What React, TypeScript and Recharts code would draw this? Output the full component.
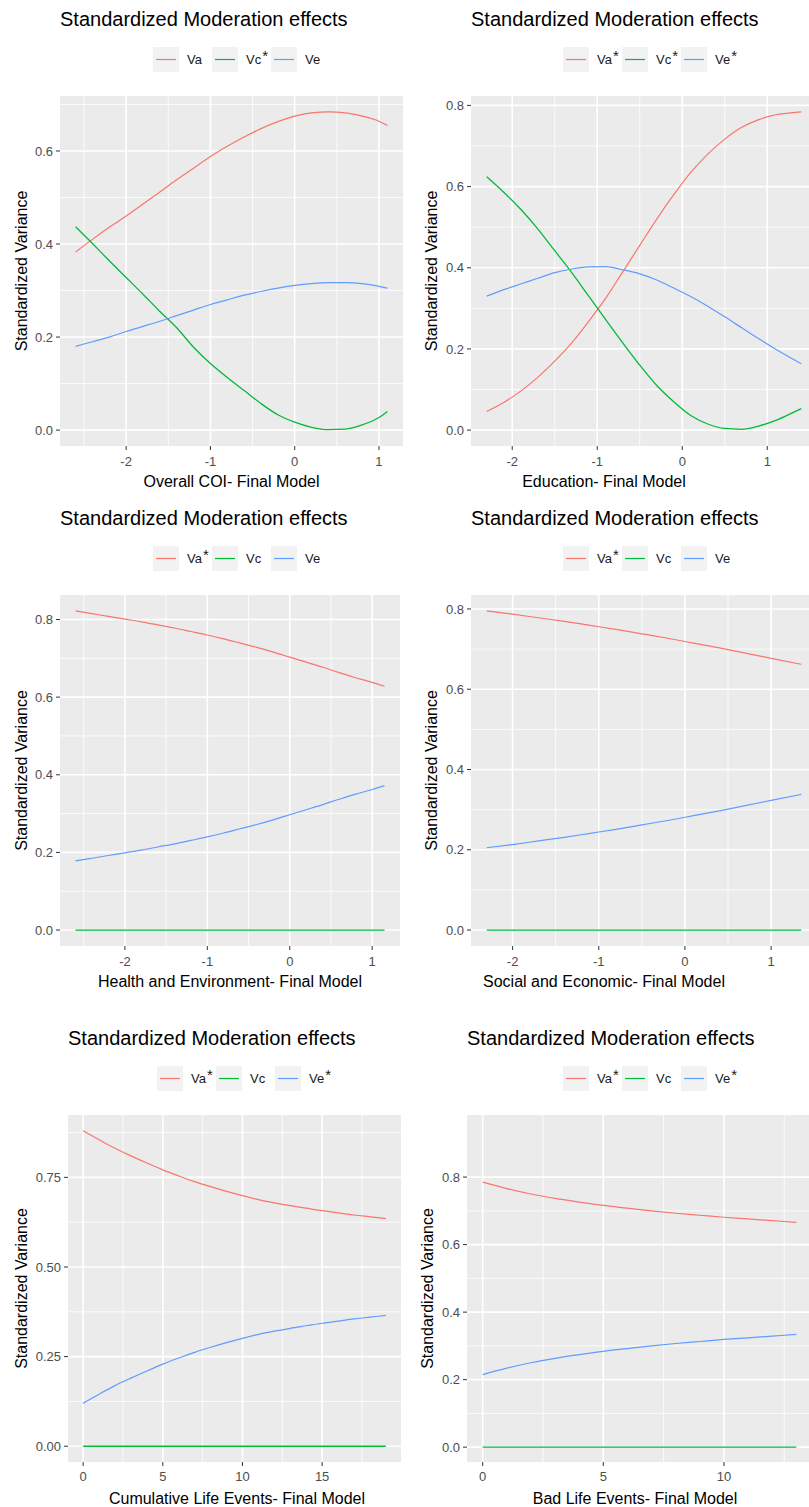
import React from 'react';
import { LineChart, Line, XAxis, YAxis, CartesianGrid, Legend } from 'recharts';

const FONT = "'Liberation Sans', Arial, Helvetica, sans-serif";
const RED = '#F8766D';
const GREEN = '#00BA38';
const BLUE = '#619CFF';

// Overall COI
const coiX = [-2.6, -2.4, -2.2, -2.0, -1.8, -1.6, -1.4, -1.2, -1.0, -0.8, -0.6, -0.4, -0.2, 0, 0.2, 0.4, 0.6, 0.8, 1.0, 1.1];
const coiVa = [0.383, 0.41, 0.436, 0.46, 0.486, 0.512, 0.538, 0.563, 0.588, 0.61, 0.63, 0.648, 0.663, 0.675, 0.682, 0.684, 0.682, 0.675, 0.664, 0.655];
const coiVc = [0.437, 0.401, 0.364, 0.328, 0.292, 0.255, 0.22, 0.178, 0.143, 0.113, 0.085, 0.057, 0.033, 0.017, 0.006, 0.001, 0.002, 0.011, 0.027, 0.04];
const coiVe = [0.18, 0.19, 0.2, 0.212, 0.223, 0.234, 0.246, 0.258, 0.27, 0.28, 0.29, 0.298, 0.305, 0.311, 0.315, 0.317, 0.317, 0.315, 0.309, 0.305];
const coiLabels = ['Va', 'Vc*', 'Ve'];

// Education
const eduX = [-2.3, -2.1, -1.9, -1.7, -1.5, -1.3, -1.1, -0.9, -0.7, -0.5, -0.3, -0.1, 0.1, 0.3, 0.5, 0.7, 0.9, 1.1, 1.3, 1.4];
const eduVa = [0.046, 0.068, 0.096, 0.13, 0.17, 0.215, 0.268, 0.325, 0.39, 0.455, 0.52, 0.58, 0.635, 0.68, 0.717, 0.746, 0.765, 0.777, 0.782, 0.784];
const eduVc = [0.624, 0.586, 0.544, 0.496, 0.442, 0.388, 0.33, 0.272, 0.215, 0.16, 0.11, 0.07, 0.036, 0.015, 0.004, 0.002, 0.01, 0.024, 0.043, 0.053];
const eduVe = [0.33, 0.346, 0.36, 0.374, 0.388, 0.397, 0.402, 0.403, 0.395, 0.385, 0.37, 0.35, 0.329, 0.305, 0.279, 0.252, 0.225, 0.199, 0.175, 0.163];
const eduLabels = ['Va*', 'Vc*', 'Ve*'];

// Health and Environment
const heX = [-2.6, -2.4, -2.2, -2.0, -1.8, -1.6, -1.4, -1.2, -1.0, -0.8, -0.6, -0.4, -0.2, 0, 0.2, 0.4, 0.6, 0.8, 1.0, 1.15];
const heVa = [0.822, 0.815, 0.808, 0.801, 0.794, 0.786, 0.778, 0.769, 0.76, 0.75, 0.739, 0.728, 0.716, 0.703, 0.69, 0.677, 0.663, 0.65, 0.638, 0.628];
const heVc = [0, 0, 0, 0, 0, 0, 0, 0, 0, 0, 0, 0, 0, 0, 0, 0, 0, 0, 0, 0];
const heVe = [0.178, 0.185, 0.192, 0.199, 0.206, 0.214, 0.222, 0.231, 0.24, 0.25, 0.261, 0.272, 0.284, 0.297, 0.31, 0.323, 0.337, 0.35, 0.362, 0.372];
const heLabels = ['Va*', 'Vc', 'Ve'];

// Social and Economic
const seX = [-2.3, -2.0, -1.7, -1.4, -1.1, -0.8, -0.5, -0.2, 0.1, 0.4, 0.7, 1.0, 1.35];
const seVa = [0.795, 0.787, 0.778, 0.769, 0.759, 0.749, 0.738, 0.727, 0.715, 0.703, 0.69, 0.677, 0.662];
const seVc = [0, 0, 0, 0, 0, 0, 0, 0, 0, 0, 0, 0, 0];
const seVe = [0.205, 0.213, 0.222, 0.231, 0.241, 0.251, 0.262, 0.273, 0.285, 0.297, 0.31, 0.323, 0.338];
const seLabels = ['Va*', 'Vc', 'Ve'];

// Cumulative Life Events
const cleX = [0, 1, 2, 3, 4, 5, 6, 7, 8, 9, 10, 11, 12, 13, 14, 15, 16, 17, 18, 19];
const cleVa = [0.88, 0.855, 0.831, 0.81, 0.79, 0.771, 0.754, 0.738, 0.724, 0.711, 0.699, 0.688, 0.679, 0.671, 0.664, 0.657, 0.651, 0.645, 0.64, 0.635];
const cleVc = [0, 0, 0, 0, 0, 0, 0, 0, 0, 0, 0, 0, 0, 0, 0, 0, 0, 0, 0, 0];
const cleVe = [0.12, 0.145, 0.169, 0.19, 0.21, 0.229, 0.246, 0.262, 0.276, 0.289, 0.301, 0.312, 0.321, 0.329, 0.336, 0.343, 0.349, 0.355, 0.36, 0.365];
const cleLabels = ['Va*', 'Vc', 'Ve*'];

// Bad Life Events
const bleX = [0, 1, 2, 3, 4, 5, 6, 7, 8, 9, 10, 11, 12, 13];
const bleVa = [0.785, 0.766, 0.75, 0.737, 0.726, 0.716, 0.708, 0.7, 0.693, 0.687, 0.681, 0.676, 0.671, 0.666];
const bleVc = [0, 0, 0, 0, 0, 0, 0, 0, 0, 0, 0, 0, 0, 0];
const bleVe = [0.215, 0.234, 0.25, 0.263, 0.274, 0.284, 0.292, 0.3, 0.307, 0.313, 0.319, 0.324, 0.329, 0.334];
const bleLabels = ['Va*', 'Vc', 'Ve*'];

// axis ticks
const xMajorStd = [-2, -1, 0, 1];
const xMinorStd = [-2.5, -1.5, -0.5, 0.5, 1.5];
const yMajor8 = [0, 0.2, 0.4, 0.6, 0.8];
const yMinor8 = [0.1, 0.3, 0.5, 0.7];
const xMajorCle = [0, 5, 10, 15];
const xMinorCle = [2.5, 7.5, 12.5, 17.5];
const yMajorCle = [0, 0.25, 0.5, 0.75];
const yMinorCle = [0.125, 0.375, 0.625, 0.875];
const xMajorBle = [0, 5, 10];
const xMinorBle = [2.5, 7.5, 12.5];

const pad = (lo: number, hi: number): [number, number] => {
  const r = hi - lo;
  return [lo - r * 0.05, hi + r * 0.05];
};

type Panel = {
  title: string;
  xTitle: string;
  x: number[];
  va: number[];
  vc: number[];
  ve: number[];
  labels: string[];
  xMajor: number[];
  xMinor: number[];
  yMajor: number[];
  yMinor: number[];
  yDomain?: [number, number];
  digits: number;
  // layout (page px)
  boxL: number;
  boxT: number;
  boxW: number;
  boxH: number;
  plotL: number;
  plotT: number;
  plotR: number;
  plotB: number;
  titleTop: number;
  legendL: number;
  legendT: number;
  xTitleDy: number;
  xTitleCx?: number;
  yTitleX: number;
  xTickMargin: number;
};

const panels: Panel[] = [
  {
    title: 'Standardized Moderation effects', xTitle: 'Overall COI- Final Model',
    x: coiX, va: coiVa, vc: coiVc, ve: coiVe, labels: coiLabels,
    xMajor: xMajorStd, xMinor: xMinorStd, yMajor: [0, 0.2, 0.4, 0.6], yMinor: yMinor8, digits: 1,
    boxL: 0, boxT: 0, boxW: 405, boxH: 500, plotL: 60, plotT: 96, plotR: 403, plotB: 446,
    titleTop: 9, legendL: 153, legendT: 46, xTitleDy: 40.5, yTitleX: 27, xTickMargin: 7,
  },
  {
    title: 'Standardized Moderation effects', xTitle: 'Education- Final Model',
    x: eduX, va: eduVa, vc: eduVc, ve: eduVe, labels: eduLabels,
    xMajor: xMajorStd, xMinor: xMinorStd, yMajor: yMajor8, yMinor: yMinor8, digits: 1,
    boxL: 405, boxT: 0, boxW: 420, boxH: 500, plotL: 471, plotT: 96, plotR: 817, plotB: 446,
    titleTop: 9, legendL: 563, legendT: 46, xTitleDy: 40.5, xTitleCx: 604, yTitleX: 437, xTickMargin: 7,
  },
  {
    title: 'Standardized Moderation effects', xTitle: 'Health and Environment- Final Model',
    x: heX, va: heVa, vc: heVc, ve: heVe, labels: heLabels,
    xMajor: xMajorStd, xMinor: xMinorStd, yMajor: yMajor8, yMinor: yMinor8, digits: 1,
    boxL: 0, boxT: 499, boxW: 405, boxH: 500, plotL: 60, plotT: 595, plotR: 400, plotB: 946,
    titleTop: 508, legendL: 153, legendT: 545, xTitleDy: 40.5, yTitleX: 27, xTickMargin: 7,
  },
  {
    title: 'Standardized Moderation effects', xTitle: 'Social and Economic- Final Model',
    x: seX, va: seVa, vc: seVc, ve: seVe, labels: seLabels,
    xMajor: xMajorStd, xMinor: xMinorStd, yMajor: yMajor8, yMinor: yMinor8, digits: 1,
    boxL: 405, boxT: 499, boxW: 420, boxH: 500, plotL: 471, plotT: 595, plotR: 817, plotB: 946,
    titleTop: 508, legendL: 563, legendT: 545, xTitleDy: 40.5, xTitleCx: 604, yTitleX: 437, xTickMargin: 7,
  },
  {
    title: 'Standardized Moderation effects', xTitle: 'Cumulative Life Events- Final Model',
    x: cleX, va: cleVa, vc: cleVc, ve: cleVe, labels: cleLabels,
    xMajor: xMajorCle, xMinor: xMinorCle, yMajor: yMajorCle, yMinor: yMinorCle, digits: 2,
    boxL: 0, boxT: 1019, boxW: 405, boxH: 488, plotL: 68, plotT: 1115, plotR: 401, plotB: 1462,
    titleTop: 1028, legendL: 157, legendT: 1065, xTitleDy: 42, xTitleCx: 237, yTitleX: 27, xTickMargin: 6,
  },
  {
    title: 'Standardized Moderation effects', xTitle: 'Bad Life Events- Final Model',
    x: bleX, va: bleVa, vc: bleVc, ve: bleVe, labels: bleLabels,
    xMajor: xMajorBle, xMinor: xMinorBle, yMajor: yMajor8, yMinor: yMinor8, digits: 1,
    yDomain: [-0.044, 0.984],
    boxL: 405, boxT: 1019, boxW: 420, boxH: 488, plotL: 467, plotT: 1115, plotR: 812, plotB: 1462,
    titleTop: 1028, legendL: 563, legendT: 1065, xTitleDy: 42, xTitleCx: 635, yTitleX: 433, xTickMargin: 6,
  },
];

const LegendKeys = ({ payload }: any) => (
  <div style={{ display: 'flex', alignItems: 'center', fontFamily: FONT, fontSize: 13, color: '#1A1A1A' }}>
    {(payload || []).map((p: any) => {
      const name = String(p.value);
      const star = name.endsWith('*');
      const base = star ? name.slice(0, -1) : name;
      return (
        <div key={name} style={{ display: 'flex', alignItems: 'center' }}>
          <svg width={26} height={25} style={{ display: 'block' }}>
            <rect x={0} y={0} width={26} height={25} fill="#F2F2F2" />
            <line x1={3} x2={23} y1={12.5} y2={12.5} stroke={p.color} strokeWidth={1.2} />
          </svg>
          <span style={{ marginLeft: 8, width: 25, whiteSpace: 'nowrap', lineHeight: '25px' }}>
            {base}
            {star && <span style={{ position: 'relative', top: -3, fontSize: 15, marginLeft: 1 }}>*</span>}
          </span>
        </div>
      );
    })}
  </div>
);

function ChartPanel({ p }: { p: Panel }) {
  const data = p.x.map((x, i) => ({ x, va: p.va[i], vc: p.vc[i], ve: p.ve[i] }));
  const xDomain = pad(Math.min(...p.x), Math.max(...p.x));
  const yDomain = p.yDomain ?? pad(0, Math.max(...p.va, ...p.vc, ...p.ve));
  const margin = { top: p.plotT - p.boxT, right: p.boxW - (p.plotR - p.boxL), bottom: 0, left: 0 };
  const yAxisW = p.plotL - p.boxL;
  const xAxisH = p.boxH - (p.plotB - p.boxT);
  const tickStyle = { fill: '#4D4D4D', fontSize: 13, fontFamily: FONT };

  const xTitle = (props: any) => {
    const vb = props.viewBox || {};
    const cx = p.xTitleCx !== undefined ? p.xTitleCx - p.boxL : vb.x + vb.width / 2;
    return (
      <text x={cx} y={vb.y + p.xTitleDy} textAnchor="middle" fontSize={16} fontFamily={FONT} fill="#000">
        {p.xTitle}
      </text>
    );
  };
  const yTitle = (props: any) => {
    const vb = props.viewBox || {};
    const cx = p.yTitleX - p.boxL;
    const cy = vb.y + vb.height / 2;
    return (
      <text x={cx} y={cy} transform={`rotate(-90, ${cx}, ${cy})`} textAnchor="middle" fontSize={16} fontFamily={FONT} fill="#000">
        Standardized Variance
      </text>
    );
  };

  return (
    <div style={{ position: 'absolute', left: p.boxL, top: p.boxT, width: p.boxW, height: p.boxH }}>
      <div
        style={{
          position: 'absolute', left: p.plotL - p.boxL, top: p.titleTop - p.boxT, fontFamily: FONT,
          fontSize: 20, lineHeight: '20px', color: '#000', whiteSpace: 'nowrap',
        }}
      >
        {p.title}
      </div>
      <LineChart width={p.boxW} height={p.boxH} data={data} margin={margin}>
        <CartesianGrid fill="#EBEBEB" fillOpacity={1} stroke="#FFFFFF" strokeWidth={0.8} horizontalValues={p.yMinor} verticalValues={p.xMinor} />
        <CartesianGrid stroke="#FFFFFF" strokeWidth={1.6} horizontalValues={p.yMajor} verticalValues={p.xMajor} />
        <XAxis
          type="number" dataKey="x" domain={xDomain} ticks={p.xMajor} allowDataOverflow
          height={xAxisH} axisLine={false} tickSize={4} tickMargin={p.xTickMargin}
          tickLine={{ stroke: '#333333' }} tick={tickStyle} label={xTitle}
        />
        <YAxis
          type="number" domain={yDomain} ticks={p.yMajor} allowDataOverflow width={yAxisW}
          axisLine={false} tickSize={4} tickMargin={3} tickLine={{ stroke: '#333333' }} tick={tickStyle}
          tickFormatter={(v: number) => v.toFixed(p.digits)} label={yTitle}
        />
        <Legend
          layout="horizontal" verticalAlign="middle" align="center"
          wrapperStyle={{ left: p.legendL - p.boxL, top: p.legendT - p.boxT, width: 'auto' }}
          content={<LegendKeys />}
        />
        <Line name={p.labels[0]} dataKey="va" stroke={RED} strokeWidth={1.2} dot={false} type="monotone" isAnimationActive={false} />
        <Line name={p.labels[1]} dataKey="vc" stroke={GREEN} strokeWidth={1.3} dot={false} type="monotone" isAnimationActive={false} />
        <Line name={p.labels[2]} dataKey="ve" stroke={BLUE} strokeWidth={1.2} dot={false} type="monotone" isAnimationActive={false} />
      </LineChart>
    </div>
  );
}

export default function App() {
  return (
    <div style={{ position: 'absolute', left: 0, top: 0, width: 809, height: 1507, overflow: 'hidden', background: '#FFFFFF' }}>
      {panels.map((p) => (
        <ChartPanel key={p.xTitle} p={p} />
      ))}
    </div>
  );
}
